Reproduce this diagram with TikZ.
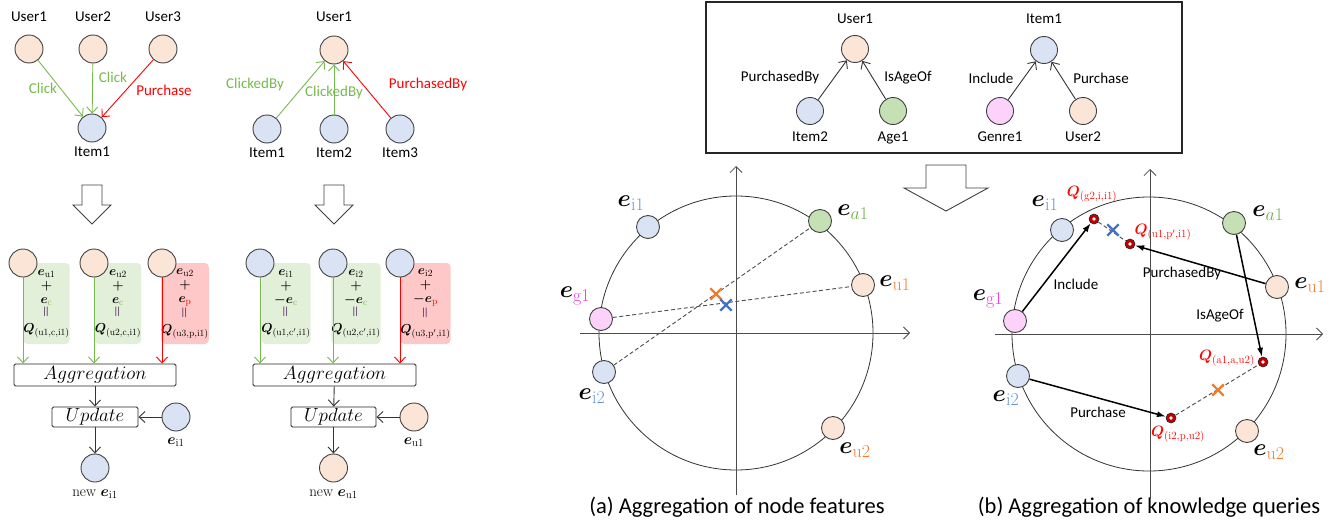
\RequirePackage{fix-cm}
\documentclass[tikz,border=0pt]{standalone}
\usepackage{fontspec}
\usepackage{amsmath}
\usepackage{graphicx}
\usetikzlibrary{calc, arrows, arrows.meta, positioning, shapes.misc}

\newfontfamily\calibri{Carlito}
\newcommand{\lblfont}{\calibri\fontsize{15}{18}\selectfont}
\newcommand{\capfont}{\calibri\fontsize{22.5}{27}\selectfont}
\DeclareMathSizes{24}{24}{18}{13}
\DeclareMathSizes{15}{15}{11}{8}
\DeclareMathSizes{13}{13}{9.5}{7}

\definecolor{userfill}{RGB}{251,229,214}
\definecolor{itemfill}{RGB}{218,227,243}
\definecolor{agefill}{RGB}{197,224,180}
\definecolor{genrefill}{RGB}{252,210,250}
\definecolor{outline}{RGB}{64,64,64}
\definecolor{clickgreen}{RGB}{118,185,78}
\definecolor{purchred}{RGB}{255,0,0}
\definecolor{greenbox}{RGB}{226,240,217}
\definecolor{redbox}{RGB}{255,200,200}
\definecolor{subblue}{RGB}{100,150,215}
\definecolor{suborange}{RGB}{237,125,49}
\definecolor{subgreen}{RGB}{112,173,71}
\definecolor{submagenta}{RGB}{240,60,216}
\definecolor{crossblue}{RGB}{68,114,196}
\definecolor{querydot}{RGB}{192,0,0}
\definecolor{eqpurple}{RGB}{70,30,90}

% embedding and query symbols
\newcommand{\evec}[2]{$\boldsymbol{e}_{\color{#1}\mathrm{#2}}$}
\newcommand{\qvec}[1]{$\boldsymbol{Q}_{\mathrm{#1}}$}
\newcommand{\vequal}{\textcolor{eqpurple}{\rotatebox{90}{$\boldsymbol{=}$}}}

\begin{document}
\begin{tikzpicture} [x=1pt, y=-1pt,
		% define styles
		usernodestyle/.style={
			% The shape:
			circle,
			% The size:
			minimum size=28pt, inner sep=0pt,
			% The border:
			draw=outline, line width=0.9pt,
			% The filling:
			fill=userfill
		},
		itemnodestyle/.style={usernodestyle, fill=itemfill},
		agenodestyle/.style={usernodestyle, fill=agefill},
		genrenodestyle/.style={usernodestyle, fill=genrefill},
		% smaller circles in the embedding space
		spacenodestyle/.style={minimum size=23pt},
		kgnodestyle/.style={minimum size=27pt},
		querynodestyle/.style={
			circle,
			minimum size=10pt, inner sep=0pt,
			draw=black!85, line width=0.6pt,
			fill=querydot,
			path picture={\fill[white] (path picture bounding box.center) circle (1.8pt);}
		},
		crossnodestyle/.style={
			cross out,
			minimum size=9pt, inner sep=0pt,
			draw, line width=2.4pt
		},
		sumboxstyle/.style={
			rectangle,
			minimum width=43pt, minimum height=81pt,
			inner sep=0pt,
			fill=greenbox,
			rounded corners=4pt,
			align=center,
			font=\fontsize{13}{14.2}\selectfont
		},
		procnodestyle/.style={
			rectangle,
			minimum height=22pt, inner sep=0pt,
			draw=black!85, line width=0.9pt,
			fill=white,
			rounded corners=1.5pt,
			font=\fontsize{19}{22}\selectfont
		},
		labelstyle/.style={inner sep=1pt, font=\lblfont},
		mathlabelstyle/.style={inner sep=0pt, font=\fontsize{24}{26}\selectfont},
		smallmathstyle/.style={inner sep=0pt, font=\fontsize{15}{17}\selectfont},
		clickarrow/.style={
			-{Straight Barb[length=6pt,width=11pt]},
			line width=0.9pt,
			clickgreen
		},
		purchasearrow/.style={clickarrow, purchred},
		flowarrow/.style={clickarrow, black!80},
		axisarrow/.style={
			-{Straight Barb[length=6pt,width=12pt]},
			line width=0.8pt,
			black!70
		},
		queryarrow/.style={
			-{Latex[length=9pt,width=6pt]},
			line width=1.5pt,
			black
		},
		dashline/.style={
			dash pattern=on 4pt off 2.5pt,
			line width=0.9pt,
			black!70
		},
		hollowarrow/.style={
			line width=0.9pt,
			draw=black!75,
			fill=white
		}]
		% end of style definition

		\useasboundingbox (0,0) rectangle (1343,527);

		% ---------- left top: user -> item ----------
		\node (iUserA1) [usernodestyle] at (29,49) {};
		\node (iUserA2) [usernodestyle] at (93,49) {};
		\node (iUserA3) [usernodestyle] at (163,49) {};
		\node (iItemA1) [itemnodestyle] at (92,128) {};
		\node (lUserA1) [labelstyle, above=12pt of iUserA1] {User1};
		\node (lUserA2) [labelstyle, above=12pt of iUserA2] {User2};
		\node (lUserA3) [labelstyle, above=12pt of iUserA3] {User3};
		\node (lItemA1) [labelstyle, below=3pt of iItemA1] {Item1};

		\draw [clickarrow] (iUserA1) -- (iItemA1);
		\draw [clickarrow] (iUserA2) -- (iItemA1);
		\draw [purchasearrow] (iUserA3) -- (iItemA1);
		\node (eClickA1) [labelstyle, text=clickgreen] at (43,88) {Click};
		\node (eClickA2) [labelstyle, text=clickgreen] at (113,77) {Click};
		\node (ePurchaseA) [labelstyle, text=purchred] at (164,90) {Purchase};

		% ---------- middle top: item -> user ----------
		\node (iUserB1) [usernodestyle] at (334,50) {};
		\node (iItemB1) [itemnodestyle] at (267,129) {};
		\node (iItemB2) [itemnodestyle] at (334,129) {};
		\node (iItemB3) [itemnodestyle] at (400,129) {};
		\node (lUserB1) [labelstyle, above=13pt of iUserB1] {User1};
		\node (lItemB1) [labelstyle, below=3pt of iItemB1] {Item1};
		\node (lItemB2) [labelstyle, below=3pt of iItemB2] {Item2};
		\node (lItemB3) [labelstyle, below=3pt of iItemB3] {Item3};

		\draw [clickarrow] (iItemB1) -- (iUserB1);
		\draw [clickarrow] (iItemB2) -- (iUserB1);
		\draw [purchasearrow] (iItemB3) -- (iUserB1);
		\node (eClickB1) [labelstyle, text=clickgreen] at (255,85) {ClickedBy};
		\node (eClickB2) [labelstyle, text=clickgreen] at (334,93) {ClickedBy};
		\node (ePurchaseB) [labelstyle, text=purchred] at (428,85) {PurchasedBy};

		% hollow arrows
		\draw [hollowarrow] (82,185) -- (102,185) -- (102,205) -- (111,205) -- (92,224) -- (73,205) -- (82,205) -- cycle;
		\draw [hollowarrow] (324,185) -- (344,185) -- (344,205) -- (353,205) -- (334,224) -- (315,205) -- (324,205) -- cycle;
		\draw [hollowarrow] (926,165) -- (966,165) -- (966,188) -- (988,188) -- (946,211) -- (904,188) -- (926,188) -- cycle;

		% ---------- left bottom: aggregation for item ----------
		\node (bSumD1) [sumboxstyle] at (46.5,303.5) {\evec{black}{u1}\\$\boldsymbol{+}$\\\evec{clickgreen}{c}\\\vequal\\\qvec{(u1,c,i1)}};
		\node (bSumD2) [sumboxstyle] at (118,303.5) {\evec{black}{u2}\\$\boldsymbol{+}$\\\evec{clickgreen}{c}\\\vequal\\\qvec{(u2,c,i1)}};
		\node (bSumD3) [sumboxstyle, fill=redbox, minimum width=44pt] at (185,303.5) {\evec{black}{u2}\\$\boldsymbol{+}$\\\evec{purchred}{p}\\\vequal\\\qvec{(u3,p,i1)}};
		\node (iUserD1) [usernodestyle] at (23,263) {};
		\node (iUserD2) [usernodestyle] at (94,263) {};
		\node (iUserD3) [usernodestyle] at (162,263) {};
		\node (iAggD) [procnodestyle, minimum width=162pt] at (95,375) {$Aggregation$};
		\node (iUpdD) [procnodestyle, minimum width=86pt, minimum height=20pt] at (95,417) {$Update$};
		\node (iItemD) [itemnodestyle] at (176,417) {};
		\node (iNewD) [itemnodestyle] at (95,468) {};
		\node (lItemD) [smallmathstyle, below=6pt of iItemD] {\evec{black}{i1}};
		\node (lNewD) [smallmathstyle, below=7pt of iNewD] {new \evec{black}{i1}};

		\draw [clickarrow] (iUserD1) -- (iUserD1 |- iAggD.north);
		\draw [clickarrow] (iUserD2) -- (iUserD2 |- iAggD.north);
		\draw [purchasearrow] (iUserD3) -- (iUserD3 |- iAggD.north);
		\draw [flowarrow] (iAggD) -- (iUpdD);
		\draw [flowarrow] (iItemD) -- (iUpdD);
		\draw [flowarrow] (iUpdD) -- (iNewD);

		% ---------- middle bottom: aggregation for user ----------
		\node (bSumF1) [sumboxstyle] at (286,303.5) {\evec{black}{i1}\\$\boldsymbol{+}$\\$\boldsymbol{-}$\evec{clickgreen}{c}\\\vequal\\\qvec{(u1,c',i1)}};
		\node (bSumF2) [sumboxstyle] at (356,303.5) {\evec{black}{i2}\\$\boldsymbol{+}$\\$\boldsymbol{-}$\evec{clickgreen}{c}\\\vequal\\\qvec{(u2,c',i1)}};
		\node (bSumF3) [sumboxstyle, fill=redbox, minimum width=47pt] at (425.5,303.5) {\evec{black}{i2}\\$\boldsymbol{+}$\\$\boldsymbol{-}$\evec{purchred}{p}\\\vequal\\\qvec{(u3,p',i1)}};
		\node (iItemF1) [itemnodestyle] at (260,263) {};
		\node (iItemF2) [itemnodestyle] at (333,263) {};
		\node (iItemF3) [itemnodestyle] at (400,263) {};
		\node (iAggF) [procnodestyle, minimum width=163pt] at (334.5,375) {$Aggregation$};
		\node (iUpdF) [procnodestyle, minimum width=85pt, minimum height=20pt] at (333.5,417) {$Update$};
		\node (iUserF) [usernodestyle] at (414,417) {};
		\node (iNewF) [usernodestyle] at (333.5,468) {};
		\node (lUserF) [smallmathstyle, below=6pt of iUserF] {\evec{black}{u1}};
		\node (lNewF) [smallmathstyle, below=7pt of iNewF] {new \evec{black}{u1}};

		\draw [clickarrow] (iItemF1) -- (iItemF1 |- iAggF.north);
		\draw [clickarrow] (iItemF2) -- (iItemF2 |- iAggF.north);
		\draw [purchasearrow] (iItemF3) -- (iItemF3 |- iAggF.north);
		\draw [flowarrow] (iAggF) -- (iUpdF);
		\draw [flowarrow] (iUserF) -- (iUpdF);
		\draw [flowarrow] (iUpdF) -- (iNewF);

		% ---------- knowledge graph box ----------
		\draw [line width=1.1pt, black!85] (706,2) rectangle (1182,153);
		\node (iUserK) [usernodestyle, kgnodestyle] at (855,49) {};
		\node (iItemK2) [itemnodestyle, kgnodestyle] at (810,111) {};
		\node (iAgeK) [agenodestyle, kgnodestyle] at (893,111) {};
		\node (iItemK) [itemnodestyle, kgnodestyle] at (1044,50) {};
		\node (iGenreK) [genrenodestyle, kgnodestyle] at (1000,111) {};
		\node (iUserK2) [usernodestyle, kgnodestyle] at (1083,111) {};
		\node (lUserK) [labelstyle, above=10pt of iUserK] {User1};
		\node (lItemK2) [labelstyle, below=6pt of iItemK2] {Item2};
		\node (lAgeK) [labelstyle, below=6pt of iAgeK] {Age1};
		\node (lItemK) [labelstyle, above=11pt of iItemK] {Item1};
		\node (lGenreK) [labelstyle, below=6pt of iGenreK] {Genre1};
		\node (lUserK2) [labelstyle, below=6pt of iUserK2] {User2};

		\draw [flowarrow] (iItemK2) -- (iUserK);
		\draw [flowarrow] (iAgeK) -- (iUserK);
		\draw [flowarrow] (iGenreK) -- (iItemK);
		\draw [flowarrow] (iUserK2) -- (iItemK);
		\node (eBuyK) [labelstyle] at (780,78) {PurchasedBy};
		\node (eAgeK) [labelstyle] at (908,78) {IsAgeOf};
		\node (eIncK) [labelstyle] at (991,78) {Include};
		\node (ePurK) [labelstyle] at (1101,78) {Purchase};

		% ---------- (a) aggregation of node features ----------
		\draw [line width=0.8pt, black!80] (736,333) circle (137pt);
		\draw [axisarrow] (580,333) -- (910,333);
		\draw [axisarrow] (736,495) -- (736,166);

		\node (iItemP1) [itemnodestyle, spacenodestyle] at (648,227) {};
		\node (iAgeP) [agenodestyle, spacenodestyle] at (820,221) {};
		\node (iUserP1) [usernodestyle, spacenodestyle] at (863,285) {};
		\node (iGenreP) [genrenodestyle, spacenodestyle] at (601,319) {};
		\node (iItemP2) [itemnodestyle, spacenodestyle] at (604,372) {};
		\node (iUserP2) [usernodestyle, spacenodestyle] at (833,428) {};
		\node (lItemP1) [mathlabelstyle] at (631,203) {\evec{subblue}{i1}};
		\node (lAgeP) [mathlabelstyle] at (853,212) {$\boldsymbol{e}_{\color{subgreen}a\mathrm{1}}$};
		\node (lUserP1) [mathlabelstyle] at (895,283) {\evec{suborange}{u1}};
		\node (lGenreP) [mathlabelstyle] at (575,296) {\evec{submagenta}{g1}};
		\node (lItemP2) [mathlabelstyle] at (592,396) {\evec{subblue}{i2}};
		\node (lUserP2) [mathlabelstyle] at (855,450) {\evec{suborange}{u2}};

		\draw [dashline] (iGenreP) -- (iUserP1);
		\draw [dashline] (iItemP2) -- (iAgeP);
		\node (xOrangeP) [crossnodestyle, draw=suborange] at (716,294) {};
		\node (xBlueP) [crossnodestyle, draw=crossblue] at (726,305) {};

		\node (capA) [font=\capfont] at (737,507) {(a) Aggregation of node features};

		% ---------- (b) aggregation of knowledge queries ----------
		\draw [line width=0.8pt, black!80] (1149,334) circle (137pt);
		\draw [axisarrow] (995,334) -- (1323,334);
		\draw [axisarrow] (1150,498) -- (1150,169);

		\node (iItemQ1) [itemnodestyle, spacenodestyle] at (1062,230) {};
		\node (iAgeQ) [agenodestyle, spacenodestyle] at (1234,223) {};
		\node (iUserQ1) [usernodestyle, spacenodestyle] at (1277,287) {};
		\node (iGenreQ) [genrenodestyle, spacenodestyle] at (1015,321) {};
		\node (iItemQ2) [itemnodestyle, spacenodestyle] at (1018,376) {};
		\node (iUserQ2) [usernodestyle, spacenodestyle] at (1247,431) {};
		\node (lItemQ1) [mathlabelstyle] at (1045,203) {\evec{subblue}{i1}};
		\node (lAgeQ) [mathlabelstyle] at (1268,213) {$\boldsymbol{e}_{\color{subgreen}a\mathrm{1}}$};
		\node (lUserQ1) [mathlabelstyle] at (1310,285) {\evec{suborange}{u1}};
		\node (lGenreQ) [mathlabelstyle] at (988,299) {\evec{submagenta}{g1}};
		\node (lItemQ2) [mathlabelstyle] at (1006,398) {\evec{subblue}{i2}};
		\node (lUserQ2) [mathlabelstyle] at (1269,452) {\evec{suborange}{u2}};

		\node (qIncQ) [querynodestyle] at (1094,219) {};
		\node (qBuyQ) [querynodestyle] at (1130,244) {};
		\node (qAgeQ) [querynodestyle] at (1263,362) {};
		\node (qPurQ) [querynodestyle] at (1171,418) {};
		\node (lIncQ) [smallmathstyle, text=purchred] at (1092,194) {\qvec{(g2,i,i1)}};
		\node (lBuyQ) [smallmathstyle, text=purchred] at (1163,232) {\qvec{(u1,p',i1)}};
		\node (lAgeQ2) [smallmathstyle, text=purchred] at (1227,358) {\qvec{(a1,a,u2)}};
		\node (lPurQ) [smallmathstyle, text=purchred] at (1178,434) {\qvec{(i2,p,u2)}};

		\draw [queryarrow] (iGenreQ) -- (qIncQ);
		\draw [queryarrow] (iUserQ1) -- (qBuyQ);
		\draw [queryarrow] (iAgeQ) -- (qAgeQ);
		\draw [queryarrow] (iItemQ2) -- (qPurQ);
		\node (eIncQ) [labelstyle] at (1076,284) {Include};
		\node (eBuyQ) [labelstyle] at (1182,273) {PurchasedBy};
		\node (eAgeQ) [labelstyle] at (1220,316) {IsAgeOf};
		\node (ePurQ) [labelstyle] at (1098,412) {Purchase};

		\draw [dashline] (qIncQ) -- (qBuyQ);
		\draw [dashline] (qPurQ) -- (qAgeQ);
		\node (xBlueQ) [crossnodestyle, draw=crossblue] at (1113,230) {};
		\node (xOrangeQ) [crossnodestyle, draw=suborange] at (1218,390) {};

		\node (capB) [font=\capfont] at (1149,507) {(b) Aggregation of knowledge queries};
	\end{tikzpicture}
\end{document}
